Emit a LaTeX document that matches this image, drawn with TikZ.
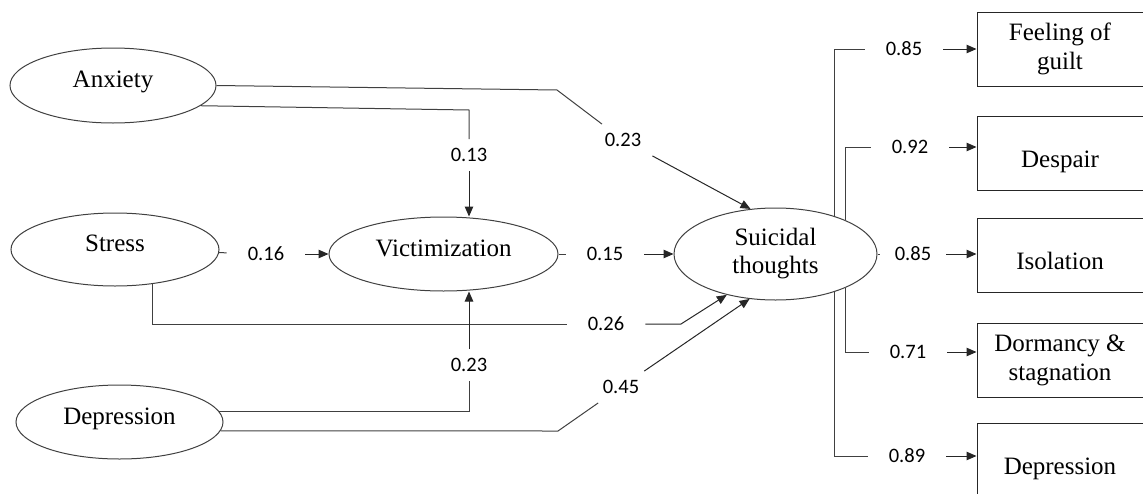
\documentclass[tikz,border=0pt]{standalone}
\usepackage{fontspec}
\setmainfont{Liberation Serif}
\newfontfamily\numfont{Carlito}
\usetikzlibrary{arrows.meta, positioning, shapes.geometric}

\begin{document}
\begin{tikzpicture}[x=1pt, y=-1pt,
  latent/.style={ellipse, draw=black!75, line width=1pt, inner sep=0pt,
                 align=center, font=\fontsize{25}{28}\selectfont},
  lone/.style={text depth=12pt},
  ind/.style={rectangle, draw=black!85, line width=1pt, inner sep=0pt,
              minimum width=166pt, minimum height=74pt, align=center,
              font=\fontsize{25}{29}\selectfont},
  low/.style={text height=34pt, text depth=6pt},
  ln/.style={line width=1pt, draw=black!75},
  arr/.style={-{Triangle[length=10pt, width=8.5pt]}, line width=1pt, draw=black!85},
  lbl/.style={font=\numfont\fontsize{20.5}{24}\selectfont, inner xsep=21pt,
              inner ysep=9pt}
]
  \useasboundingbox (0,0) rectangle (1143,493);
  \clip (0,0) rectangle (1143,493);

  % ========== Predictors ==========
  \node[latent, lone, minimum width=206pt, minimum height=75pt] (anx) at (113,85.5) {Anxiety};
  \node[latent, lone, minimum width=208pt, minimum height=73pt] (stress) at (115,249.5) {Stress};
  \node[latent, lone, minimum width=207pt, minimum height=74pt] (dep) at (119.5,422) {Depression};

  % ========== Mediator and outcome ==========
  \node[latent, lone, minimum width=229pt, minimum height=74pt] (vic) at (443.5,254) {Victimization};
  \node[latent, minimum width=203pt, minimum height=92pt] (sui) at (775.5,254) {Suicidal\\thoughts};

  % ========== Indicators ==========
  \node[ind] (guilt) at (1060,49) {Feeling of\\guilt};
  \node[ind, low] (despair) at (1060,153.5) {Despair};
  \node[ind, low] (isol) at (1060,255.5) {Isolation};
  \node[ind] (dorm) at (1060,360) {Dormancy \&\\stagnation};
  \node[ind, low] (depb) at (1060,460) {Depression};

  % ========== Path weights ==========
  \node[lbl] (l1) at (623,140) {0.23};
  \node[lbl] (l2) at (469,155) {0.13};
  \node[lbl] (l3) at (266,254) {0.16};
  \node[lbl] (l4) at (605,254) {0.15};
  \node[lbl] (l5) at (606,324) {0.26};
  \node[lbl] (l6) at (469,365) {0.23};
  \node[lbl] (l7) at (621,387) {0.45};
  \node[lbl] (l8) at (904,49) {0.85};
  \node[lbl] (l9) at (910,147) {0.92};
  \node[lbl, inner xsep=15pt] (l10) at (913,254) {0.85};
  \node[lbl] (l11) at (908,352) {0.71};
  \node[lbl] (l12) at (907,456) {0.89};

  % ======== Anxiety ========
  \draw[ln] (anx.east) -- (557,90) -- (l1);
  \draw[arr] (l1) -- (sui.119);
  \draw[ln] (anx.-13) -- (469,110) -- (l2);
  \draw[arr] (l2) -- (l2 |- vic.north);

  % ======== Stress ========
  \draw[ln] (stress) -- (l3);
  \draw[arr] (l3) -- (vic);
  \draw[ln] (stress.-43) |- (l5);
  \draw[arr] (l5) -- (681,324) -- (sui.-140);

  % ======== Depression ========
  \draw[ln] (dep.6) -| (l6);
  \draw[arr] (l6) -- (l6 |- vic.south);
  \draw[ln] (dep.-5) -- (558,431) -- (l7);
  \draw[arr] (l7) -- (sui.-120);

  % ======== Victimization -> Suicidal thoughts ========
  \draw[ln] (vic) -- (l4);
  \draw[arr] (l4) -- (sui);

  % ======== Loadings ========
  \draw[ln] (sui.33) |- (l8);
  \draw[arr] (l8) -- (l8 -| guilt.west);
  \draw[ln] (sui.26) |- (l9);
  \draw[arr] (l9) -- (l9 -| despair.west);
  \draw[ln] (sui) -- (l10);
  \draw[arr] (l10) -- (l10 -| isol.west);
  \draw[ln] (sui.-26) |- (l11);
  \draw[arr] (l11) -- (l11 -| dorm.west);
  \draw[ln] (sui.-33) |- (l12);
  \draw[arr] (l12) -- (l12 -| depb.west);

\end{tikzpicture}
\end{document}
